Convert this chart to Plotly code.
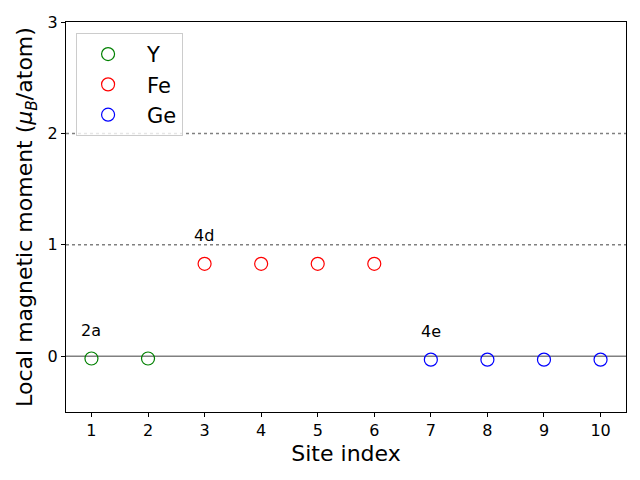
import plotly.graph_objects as go

y_sites = [1, 2]
y_vals = [-0.02, -0.02]
fe_sites = [3, 4, 5, 6]
fe_vals = [0.83, 0.83, 0.83, 0.83]
ge_sites = [7, 8, 9, 10]
ge_vals = [-0.03, -0.03, -0.03, -0.03]
labels = ["2a", "4d", "4e"]
label_x = [1, 3, 7]
label_y = [-0.02, 0.83, -0.03]
x_ticks = list(range(1, 11))
y_ticks = [0, 1, 2, 3]

fig = go.Figure()
for name, xs, ys, col in [("Y", y_sites, y_vals, "green"),
                          ("Fe", fe_sites, fe_vals, "red"),
                          ("Ge", ge_sites, ge_vals, "blue")]:
    fig.add_trace(go.Scatter(x=xs, y=ys, mode="markers", name=name,
                             marker=dict(symbol="circle-open", size=13,
                                         color=col, line=dict(width=1.2, color=col))))

fig.add_hline(y=0, line=dict(color="gray", width=1.5), layer="below")
for yv in [1, 2]:
    fig.add_hline(y=yv, line=dict(color="gray", width=1.5, dash="dot"), layer="below")

for t, lx, ly in zip(labels, label_x, label_y):
    fig.add_annotation(x=lx - 0.2, y=ly + 0.16, text=t, showarrow=False,
                       xanchor="left", yanchor="bottom",
                       font=dict(size=16, color="black"), borderpad=0)

axis_common = dict(showline=True, linecolor="black", linewidth=1, mirror=True,
                   ticks="outside", ticklen=4, tickcolor="black", showgrid=False,
                   zeroline=False, tickfont=dict(size=16, color="black"))
fig.update_xaxes(range=[0.55, 10.45], tickvals=x_ticks,
                 title=dict(text="Site index", font=dict(size=22, color="black"), standoff=6),
                 **axis_common)
fig.update_yaxes(range=[-0.5, 3], tickvals=y_ticks,
                 title=dict(text="Local magnetic moment (<i>μ</i><sub><i>B</i></sub>/atom)",
                            font=dict(size=22, color="black"), standoff=8),
                 **axis_common)

fig.update_layout(width=632, height=472, plot_bgcolor="white", paper_bgcolor="white",
                  font=dict(family="DejaVu Sans", color="black"),
                  margin=dict(l=58, r=14, t=14, b=68, autoexpand=False),
                  legend=dict(x=0.018, y=0.972, xanchor="left", yanchor="top",
                              bordercolor="#cccccc", borderwidth=1,
                              bgcolor="rgba(255,255,255,0.8)",
                              font=dict(size=21), itemwidth=68, indentation=-8))

fig.write_html("out.html")
